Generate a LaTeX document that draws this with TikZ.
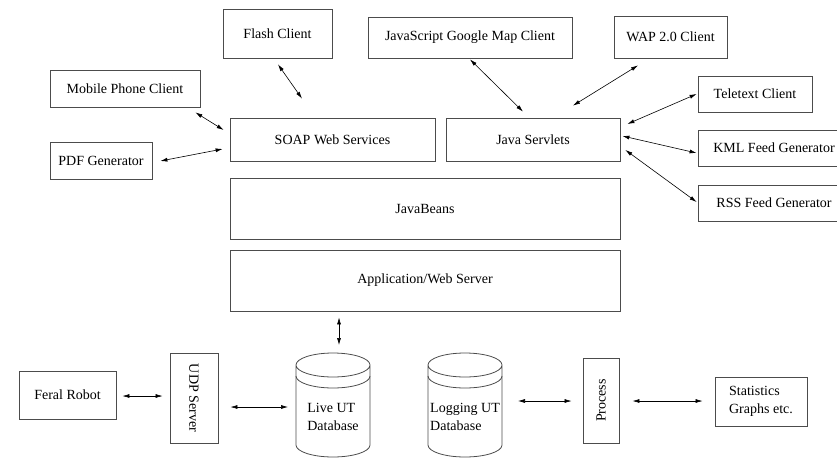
\documentclass[tikz,border=0pt]{standalone}
\usepackage{fontspec}
\setmainfont{Liberation Serif}
\usepackage{graphicx}
\usetikzlibrary{arrows.meta,positioning}

\begin{document}
\begin{tikzpicture}[x=1pt, y=1pt,
      font=\fontsize{14}{18}\selectfont,
      box/.style={draw=black!70, line width=0.8pt, inner sep=0pt, align=center},
      dbtext/.style={inner sep=0pt, align=left},
      link/.style={<->, line width=0.6pt, >={Latex[length=7pt,width=4pt]}}]
    \useasboundingbox (0,0) rectangle (837,459);
    \clip (0,0) rectangle (837,459);
    % clients
    \node[box, minimum width=109pt, minimum height=49pt] (flash) at (277.5,425.5) {Flash Client};
    \node[box, minimum width=204pt, minimum height=41pt] (jsmap) at (470,421.5) {JavaScript Google Map Client};
    \node[box, minimum width=113pt, minimum height=42pt] (wap) at (670.5,422) {WAP 2.0 Client};
    \node[box, minimum width=150pt, minimum height=37pt] (mobile) at (125,370.5) {Mobile Phone Client};
    \node[box, minimum width=102pt, minimum height=37pt] (pdf) at (101,298.5) {PDF Generator};
    \node[box, minimum width=114pt, minimum height=36pt] (teletext) at (755,365) {Teletext Client};
    \node[box, minimum width=152pt, minimum height=36pt] (kml) at (774,311) {KML Feed Generator};
    \node[box, minimum width=152pt, minimum height=36pt] (rss) at (774,256) {RSS Feed Generator};
    % server layers
    \node[box, minimum width=205pt, minimum height=43pt] (soap) at (332.5,319.5) {SOAP Web Services};
    \node[box, minimum width=174pt, minimum height=43pt] (servlets) at (533,319.5) {Java Servlets};
    \node[box, minimum width=390pt, minimum height=61pt] (beans) at (425,250.5) {JavaBeans};
    \node[box, minimum width=390pt, minimum height=61pt] (appserver) at (425,178.5) {Application/Web Server};
    % bottom row
    \node[box, minimum width=97pt, minimum height=48pt] (feral) at (67.5,64) {Feral Robot};
    \node[box, minimum width=48pt, minimum height=90pt] (udp) at (194,61) {\rotatebox{-90}{UDP Server}};
    \node[dbtext] (live) at (333,42) {Live UT\\Database};
    \node[dbtext] (logdb) at (465,42) {Logging UT\\Database};
    \node[box, minimum width=36pt, minimum height=85pt] (process) at (601,58.5) {\rotatebox{90}{Process}};
    \node[box, minimum width=92pt, minimum height=49pt, align=left] (stats) at (761,57.5) {Statistics\\Graphs etc.};
    % database cylinders
    \foreach \db in {live,logdb} {
      \draw[black!70, line width=0.8pt, shift={(\db.center)}]
        (-37,52) -- (-37,-28) arc[start angle=180, end angle=360, x radius=37pt, y radius=12pt]
        -- (37,52) arc[start angle=0, end angle=360, x radius=37pt, y radius=12pt];
      \draw[black!70, line width=0.8pt, shift={(\db.center)}]
        (-37,41) arc[start angle=180, end angle=360, x radius=37pt, y radius=12pt];
    }
    % connectors
    \draw[link] ([shift={(0.5,-6)}]flash.south) -- ([shift={(-30.5,19)}]soap.north);
    \draw[link] ([shift={(-5,-5)}]mobile.south east) -- ([shift={(-6,9.5)}]soap.west);
    \draw[link] ([shift={(8,-0.5)}]pdf.east) -- ([shift={(-7,-9.5)}]soap.west);
    \draw[link] ([shift={(0,-1)}]jsmap.south) -- ([shift={(-10,6)}]servlets.north);
    \draw[link] ([shift={(-32.5,-7)}]wap.south) -- ([shift={(40,12)}]servlets.north);
    \draw[link] ([shift={(-1,0)}]teletext.west) -- ([shift={(7,15.5)}]servlets.east);
    \draw[link] ([shift={(2,3.5)}]servlets.east) -- ([shift={(-1,-5)}]kml.west);
    \draw[link] ([shift={(5,-10.5)}]servlets.east) -- ([shift={(-1,1)}]rss.west);
    \draw[link] ([shift={(-86,-6)}]appserver.south) -- ([shift={(6,72)}]live.center);
    \draw[link] ([shift={(6,-1)}]feral.east) -- ([shift={(-7,2)}]udp.west);
    \draw[link] ([shift={(12,-9)}]udp.east) -- ([shift={(-45,10)}]live.center);
    \draw[link] ([shift={(53,16)}]logdb.center) -- ([shift={(-11,-0.5)}]process.west);
    \draw[link] ([shift={(13,-0.5)}]process.east) -- ([shift={(-12,0.5)}]stats.west);
\end{tikzpicture}
\end{document}
